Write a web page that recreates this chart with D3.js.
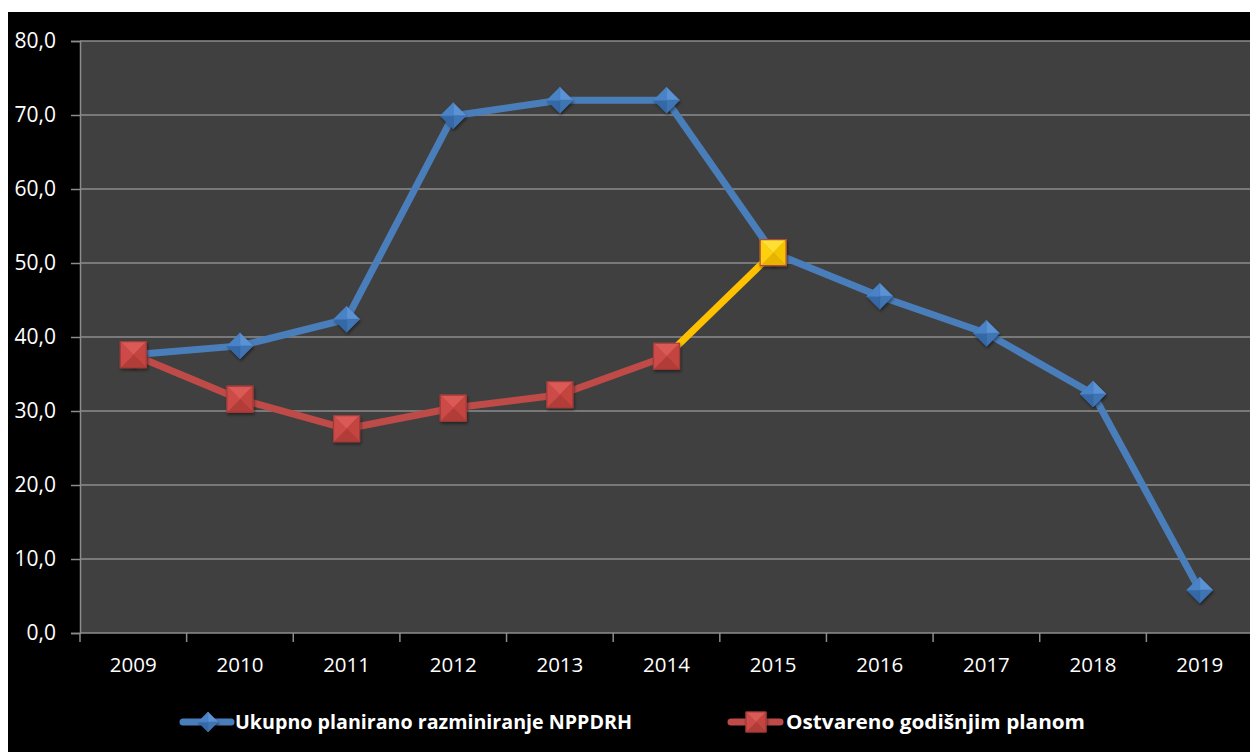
<!DOCTYPE html>
<html>
<head>
<meta charset="utf-8">
<script src="https://cdn.jsdelivr.net/npm/d3@7"></script>
<style>
  body { margin: 0; background: #fff; }
  svg { display: block; }
</style>
</head>
<body>
<script>
// chart values
var years = ["2009", "2010", "2011", "2012", "2013", "2014", "2015", "2016", "2017", "2018", "2019"];
var planned = [37.6, 38.8, 42.4, 69.9, 72.0, 72.0, 51.4, 45.5, 40.5, 32.3, 5.8];
var achieved = [37.6, 31.6, 27.6, 30.4, 32.2, 37.4];
var forecast = [{year: "2014", v: 37.4}, {year: "2015", v: 51.4}];
var yTicks = [0, 10, 20, 30, 40, 50, 60, 70, 80];
var seriesNames = ["Ukupno planirano razminiranje NPPDRH", "Ostvareno godišnjim planom"];

var svgWidth = 1250;
var svgHeight = 752;
var margin = {top: 41, right: -3, bottom: 119, left: 80};
var chartWidth = svgWidth - margin.left - margin.right;
var chartHeight = svgHeight - margin.top - margin.bottom;
var font = "'Open Sans', 'Noto Sans', sans-serif";

var svg = d3.select("body").append("svg")
  .attr("width", svgWidth)
  .attr("height", svgHeight);

// black frame
svg.append("rect")
  .attr("x", 8).attr("y", 12)
  .attr("width", svgWidth - 8).attr("height", svgHeight - 12)
  .attr("fill", "#000");

var chartGroup = svg.append("g")
  .attr("transform", `translate(${margin.left}, ${margin.top})`);

var x = d3.scaleBand().domain(years).range([0, chartWidth]);
var y = d3.scaleLinear().domain([0, 80]).range([chartHeight, 0]);
var cx = d => x(d) + x.bandwidth() / 2;

chartGroup.append("rect")
  .attr("width", chartWidth).attr("height", chartHeight)
  .attr("fill", "#404040");

// gridlines
chartGroup.selectAll(".grid")
  .data(yTicks.filter(t => t > 0))
  .enter().append("line")
  .attr("x1", 0).attr("x2", chartWidth)
  .attr("y1", d => y(d)).attr("y2", d => y(d))
  .attr("stroke", "#8c8c8c").attr("stroke-width", 1.5);

// y axis
var leftAxis = d3.axisLeft(y).tickValues(yTicks).tickSize(9).tickPadding(15)
  .tickFormat(d => d3.format(".1f")(d).replace(".", ","));
var yAxis = chartGroup.append("g").call(leftAxis);
yAxis.select(".domain").attr("stroke", "#8c8c8c").attr("stroke-width", 1.5);
yAxis.selectAll(".tick line").attr("stroke", "#8c8c8c").attr("stroke-width", 1.5);
yAxis.selectAll("text").attr("fill", "#fff")
  .style("font-family", font).style("font-size", "21px");

// x axis
var xTickPos = years.map(d => x(d)).concat([chartWidth]);
var xAxis = chartGroup.append("g").attr("transform", `translate(0, ${chartHeight})`);
xAxis.append("line").attr("x1", 0).attr("x2", chartWidth)
  .attr("stroke", "#8c8c8c").attr("stroke-width", 1.5);
xAxis.selectAll(".xt").data(xTickPos).enter().append("line")
  .attr("x1", d => d).attr("x2", d => d).attr("y1", 0).attr("y2", 9)
  .attr("stroke", "#8c8c8c").attr("stroke-width", 1.5);
xAxis.selectAll(".xl").data(years).enter().append("text")
  .attr("x", d => cx(d)).attr("y", 39)
  .attr("text-anchor", "middle").attr("fill", "#fff")
  .style("font-family", font).style("font-size", "20.5px")
  .text(d => d);

var defs = svg.append("defs");
var shadow = defs.append("filter").attr("id", "shadow").attr("x", "-50%").attr("y", "-50%").attr("width", "200%").attr("height", "200%");
shadow.append("feDropShadow").attr("dx", 1).attr("dy", 2).attr("stdDeviation", 1.5).attr("flood-color", "#000").attr("flood-opacity", 0.45);

// bevelled marker: four faces meeting in the middle
function pyramid(g, px, py, s, shades, diamond, border) {
  var m = g.append("g").attr("transform", `translate(${px}, ${py})`).attr("filter", "url(#shadow)");
  var pts;
  if (diamond) pts = [[0, -s], [s, 0], [0, s], [-s, 0]];
  else pts = [[-s, -s], [s, -s], [s, s], [-s, s]];
  for (var i = 0; i < 4; i++) {
    var a = pts[i], b = pts[(i + 1) % 4];
    m.append("path")
      .attr("d", `M0,0L${a[0]},${a[1]}L${b[0]},${b[1]}Z`)
      .attr("fill", shades[i]).attr("stroke", shades[i]).attr("stroke-width", 0.6);
  }
  if (border) {
    m.append("path").attr("d", "M" + pts.join("L") + "Z")
      .attr("fill", "none").attr("stroke", border).attr("stroke-width", 1.2);
  }
}

var blueShades = ["#5a92d4", "#3f74b4", "#3568a6", "#4a82c6"];
var redShades = ["#dc5a57", "#c44541", "#b23c39", "#cc4c49"];
var yellowShades = ["#ffe033", "#f5c400", "#e8b400", "#ffd010"];

var line = d3.line().x((d, i) => cx(years[i])).y(d => y(d));

chartGroup.append("path").datum(planned)
  .attr("d", line).attr("fill", "none")
  .attr("stroke", "#4a7ebb").attr("stroke-width", 7).attr("stroke-linejoin", "round");

chartGroup.append("path").datum(achieved)
  .attr("d", line).attr("fill", "none")
  .attr("stroke", "#be4b48").attr("stroke-width", 7).attr("stroke-linejoin", "round");

chartGroup.append("path").datum(forecast)
  .attr("d", d3.line().x(d => cx(d.year)).y(d => y(d.v)))
  .attr("fill", "none").attr("stroke", "#ffc000").attr("stroke-width", 7);

planned.forEach(function(v, i) {
  pyramid(chartGroup, cx(years[i]), y(v), 13, blueShades, true, null);
});
achieved.forEach(function(v, i) {
  pyramid(chartGroup, cx(years[i]), y(v), 13, redShades, false, "#a33a37");
});
pyramid(chartGroup, cx(forecast[1].year), y(forecast[1].v), 13, yellowShades, false, "#b0483a");

// legend
var legend = svg.append("g").attr("transform", "translate(0, 722)");
legend.append("line").attr("x1", 183).attr("x2", 231).attr("y1", 0).attr("y2", 0)
  .attr("stroke", "#4a7ebb").attr("stroke-width", 7).attr("stroke-linecap", "round");
pyramid(legend, 208, 0, 10, blueShades, true, null);
legend.append("text").attr("x", 235).attr("y", 7).attr("fill", "#fff")
  .attr("textLength", 397).attr("lengthAdjust", "spacingAndGlyphs")
  .style("font-family", font).style("font-size", "20px").style("font-weight", "bold")
  .text(seriesNames[0]);

legend.append("line").attr("x1", 731).attr("x2", 780).attr("y1", 0).attr("y2", 0)
  .attr("stroke", "#be4b48").attr("stroke-width", 7).attr("stroke-linecap", "round");
pyramid(legend, 756, 0, 10, redShades, false, "#a33a37");
legend.append("text").attr("x", 786).attr("y", 7).attr("fill", "#fff")
  .attr("textLength", 299).attr("lengthAdjust", "spacingAndGlyphs")
  .style("font-family", font).style("font-size", "20px").style("font-weight", "bold")
  .text(seriesNames[1]);
</script>
</body>
</html>
